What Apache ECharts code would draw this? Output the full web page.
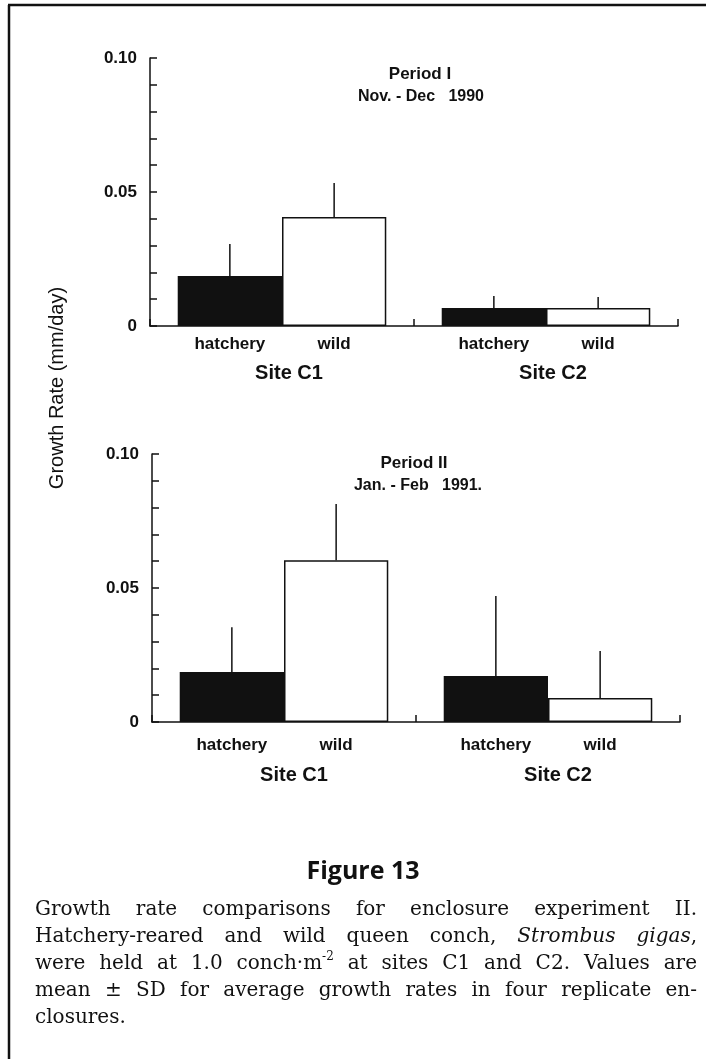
<!DOCTYPE html>
<html>
<head>
<meta charset="utf-8">
<script src="https://cdn.jsdelivr.net/npm/echarts@6/dist/echarts.min.js"></script>
<style>
  html, body { margin: 0; padding: 0; background: #fff; }
  #main { width: 706px; height: 1059px; }
</style>
</head>
<body>
<div id="main"></div>
<script>
// ---------- data ----------
const categories = ['Site C1', 'Site C2'];
const seriesNames = ['hatchery', 'wild'];
const yTickLabels = { '0': '0', '0.05': '0.05', '0.1': '0.10' };

// Period I (Nov. - Dec 1990)
const p1Hatchery   = [0.0187, 0.0067];
const p1Wild       = [0.0407, 0.0067];
const p1HatcherySD = [0.0119, 0.0045];
const p1WildSD     = [0.0127, 0.0041];

// Period II (Jan. - Feb 1991)
const p2Hatchery   = [0.0187, 0.0172];
const p2Wild       = [0.0604, 0.0090];
const p2HatcherySD = [0.0167, 0.0298];
const p2WildSD     = [0.0209, 0.0175];

const periodTitles = [['Period I', 'Nov. - Dec   1990'], ['Period II', 'Jan. - Feb   1991.']];
const yTitle = 'Growth Rate (mm/day)';
const figTitle = 'Figure 13';
const captionLines = [
  'Growth rate comparisons for enclosure experiment II.',
  'Hatchery-reared and wild queen conch, *Strombus* *gigas*,',
  'were held at 1.0 conch·m^-2^ at sites C1 and C2. Values are',
  'mean ± SD for average growth rates in four replicate en-',
  'closures.'
];

// ---------- helpers ----------
const INK = '#111';
const SANS = '"Liberation Sans", Arial, Helvetica, sans-serif';
const SERIF = '"DejaVu Serif", "Liberation Serif", serif';
const GAP = 0.21;

function errData(mean, sd) {
  return mean.map((m, i) => [i, m, m + sd[i]]);
}
function errRender(side) {
  return function (params, api) {
    const c = api.value(0);
    const b = api.coord([c, api.value(1)]);
    const t = api.coord([c, api.value(2)]);
    const band = api.size([1, 0])[0];
    const off = side * band * (1 - GAP) / 4;
    return {
      type: 'line',
      shape: { x1: b[0] + off, y1: b[1], x2: b[0] + off, y2: t[1] },
      style: { stroke: INK, lineWidth: 1.5 }
    };
  };
}

const grids = [
  { left: 150, top: 58, width: 528, height: 268 },
  { left: 152, top: 454, width: 528, height: 268 }
];
const siteMargins = [37, 43];
const sitePad = [[0, 0, 0, 14], [0, 0, 0, 20]];
const labelDist = [10, 15];

function xAxisFor(i) {
  return {
    type: 'category', gridIndex: i, data: categories,
    axisLine: { lineStyle: { color: INK, width: 1.5 } },
    axisTick: { show: true, inside: true, length: 7, lineStyle: { color: INK, width: 1.5 } },
    axisLabel: { margin: siteMargins[i], padding: sitePad[i], fontSize: 20, fontWeight: 'bold', color: INK, fontFamily: SANS },
    splitLine: { show: false }
  };
}
function yAxisFor(i) {
  return {
    type: 'value', gridIndex: i, min: 0, max: 0.1, interval: 0.01,
    axisLine: { show: true, lineStyle: { color: INK, width: 1.5 } },
    axisTick: { show: true, inside: true, length: 7, lineStyle: { color: INK, width: 1.5 } },
    splitLine: { show: false },
    axisLabel: {
      margin: 13, fontSize: 17, fontWeight: 'bold', color: INK, fontFamily: SANS,
      formatter: function (v) {
        const k = String(Math.round(v * 100) / 100);
        return yTickLabels[k] !== undefined ? yTickLabels[k] : '';
      }
    }
  };
}
function barSeries(i, name, data, fill) {
  return {
    type: 'bar', name: name, xAxisIndex: i, yAxisIndex: i, data: data,
    barGap: '0%', barCategoryGap: (GAP * 100) + '%',
    itemStyle: { color: fill, borderColor: INK, borderWidth: 1.5 },
    label: {
      show: true, position: 'bottom', distance: labelDist[i], formatter: '{a}',
      fontSize: 17, fontWeight: 'bold', color: INK, fontFamily: SANS
    },
    silent: true, animation: false
  };
}
function errSeries(i, mean, sd, side) {
  return {
    type: 'custom', xAxisIndex: i, yAxisIndex: i, z: 10,
    data: errData(mean, sd), renderItem: errRender(side),
    encode: { x: 0, y: [1, 2] }, silent: true, animation: false
  };
}

// ---------- caption justification ----------
const cv = document.createElement('canvas');
const ctx = cv.getContext('2d');
const CAP_SIZE = 20, SUP_SIZE = 12;
function fontOf(seg) {
  return (seg.italic ? 'italic ' : '') + (seg.sup ? SUP_SIZE : CAP_SIZE) + 'px ' + SERIF;
}
function parseWord(w) {
  const parts = w.split(/(\*[^*]+\*|\^[^^]+\^)/).filter(s => s.length);
  return parts.map(p => {
    if (p[0] === '*') return { t: p.slice(1, -1), italic: true };
    if (p[0] === '^') return { t: p.slice(1, -1), sup: true };
    return { t: p };
  });
}
function segWidth(seg) { ctx.font = fontOf(seg); return ctx.measureText(seg.t).width; }

function captionGraphics() {
  const out = [];
  const X0 = 35, X1 = 697, Y0 = 910, LH = 27;
  captionLines.forEach((line, li) => {
    const words = line.split(' ').map(parseWord);
    const widths = words.map(ws => ws.reduce((s, seg) => s + segWidth(seg), 0));
    const total = widths.reduce((a, b) => a + b, 0);
    const last = li === captionLines.length - 1;
    ctx.font = fontOf({});
    const space = last ? ctx.measureText(' ').width : (X1 - X0 - total) / (words.length - 1);
    let x = X0;
    const y = Y0 + li * LH;
    words.forEach((ws, wi) => {
      let sx = x;
      ws.forEach(seg => {
        out.push({
          type: 'text', x: sx, y: seg.sup ? y - 7 : y, silent: true,
          style: {
            text: seg.t, fill: INK, font: fontOf(seg),
            textAlign: 'left', textVerticalAlign: 'middle', verticalAlign: 'middle'
          }
        });
        sx += segWidth(seg);
      });
      x += widths[wi] + space;
    });
  });
  return out;
}

// ---------- chart ----------
const chart = echarts.init(document.getElementById('main'), null, { renderer: 'canvas' });

function centeredText(x, y, text, font) {
  return {
    type: 'text', x: x, y: y, silent: true,
    style: { text: text, fill: INK, font: font, textAlign: 'center', verticalAlign: 'middle', textVerticalAlign: 'middle' }
  };
}

const graphics = [
  { type: 'line', shape: { x1: 9, y1: 5, x2: 9, y2: 1059 }, style: { stroke: INK, lineWidth: 2.5 }, silent: true },
  { type: 'line', shape: { x1: 8, y1: 5, x2: 706, y2: 5 }, style: { stroke: INK, lineWidth: 2.5 }, silent: true },
  {
    type: 'text', x: 57, y: 388, rotation: Math.PI / 2, silent: true,
    style: { text: yTitle, fill: INK, font: '20px ' + SANS, textAlign: 'center', textVerticalAlign: 'middle', verticalAlign: 'middle' }
  },
  centeredText(420, 74, periodTitles[0][0], 'bold 17px ' + SANS),
  centeredText(421, 97, periodTitles[0][1], 'bold 16px ' + SANS),
  centeredText(414, 463, periodTitles[1][0], 'bold 17px ' + SANS),
  centeredText(418, 486, periodTitles[1][1], 'bold 16px ' + SANS),
  centeredText(363, 872, figTitle, 'bold 25px "Open Sans", "Noto Sans", sans-serif')
].concat(captionGraphics());

chart.setOption({
  backgroundColor: '#fff',
  animation: false,
  grid: grids,
  xAxis: [xAxisFor(0), xAxisFor(1)],
  yAxis: [yAxisFor(0), yAxisFor(1)],
  series: [
    barSeries(0, seriesNames[0], p1Hatchery, INK),
    barSeries(0, seriesNames[1], p1Wild, '#fff'),
    errSeries(0, p1Hatchery, p1HatcherySD, -1),
    errSeries(0, p1Wild, p1WildSD, 1),
    barSeries(1, seriesNames[0], p2Hatchery, INK),
    barSeries(1, seriesNames[1], p2Wild, '#fff'),
    errSeries(1, p2Hatchery, p2HatcherySD, -1),
    errSeries(1, p2Wild, p2WildSD, 1)
  ],
  graphic: graphics
});
</script>
</body>
</html>
